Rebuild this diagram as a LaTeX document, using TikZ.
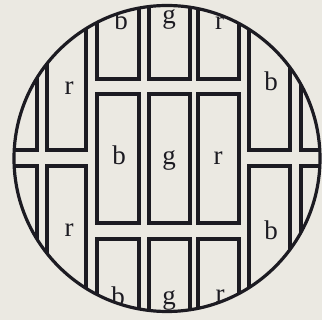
\documentclass[tikz,border=0pt]{standalone}
\usepackage{fontspec}
\setmainfont{Liberation Serif}
\definecolor{bg}{RGB}{235,233,226}
\definecolor{ink}{RGB}{28,27,34}
\begin{document}
\begin{tikzpicture}[x=1pt,y=-1pt,
  brick/.style={draw=ink,line width=3.1pt},
  rim/.style={draw=ink,line width=3.2pt},
  lbl/.style={font=\fontsize{27}{27}\selectfont, text=ink, anchor=base, inner sep=0pt}]
\fill[bg] (0,0) rectangle (322,320);
\useasboundingbox (0,0) rectangle (322,320);
\begin{scope}
  \clip (167,158.5) circle (153pt);
  % outer columns (rows offset)
  \foreach \l/\r in {-4/37, 47/86, 249/290, 301/342} {
    \draw[brick] (\l,21) rectangle (\r,150);
    \draw[brick] (\l,166) rectangle (\r,295);
  }
  % middle columns
  \foreach \l/\r in {97/139, 149/190, 198/239} {
    \draw[brick] (\l,-50) rectangle (\r,79);
    \draw[brick] (\l,94) rectangle (\r,223);
    \draw[brick] (\l,239) rectangle (\r,368);
  }
  % labels
  \node[lbl] (tb) at (121,30) {b};
  \node[lbl] (tg) at (169,24) {g};
  \node[lbl] (tr) at (219.5,30) {r};
  \node[lbl] (mb) at (119,165) {b};
  \node[lbl] (mg) at (169,165) {g};
  \node[lbl] (mr) at (218,165) {r};
  \node[lbl] (bb) at (118,306) {b};
  \node[lbl] (bg) at (169,305) {g};
  \node[lbl] (br) at (220,303) {r};
  \node[lbl] (lr1) at (69,95) {r};
  \node[lbl] (lr2) at (69,237) {r};
  \node[lbl] (rb1) at (271,91) {b};
  \node[lbl] (rb2) at (271,240) {b};
\end{scope}
\draw[rim] (167,158.5) circle (153pt);
\end{tikzpicture}
\end{document}
